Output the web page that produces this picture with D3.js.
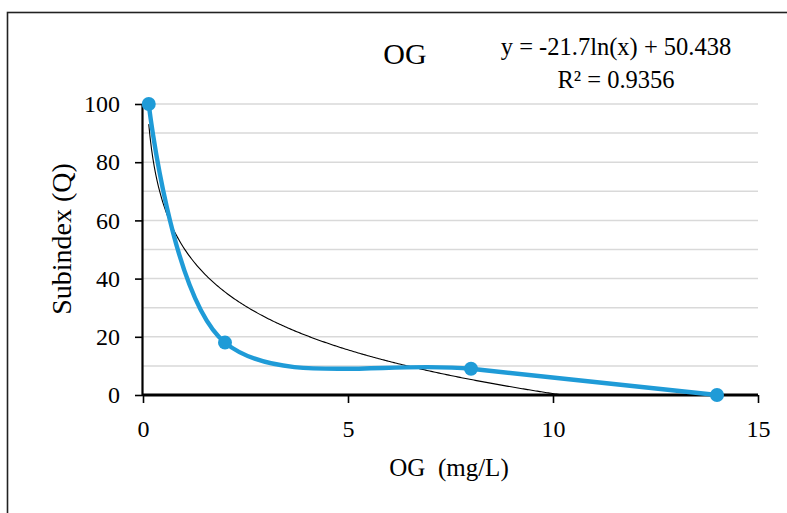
<!DOCTYPE html>
<html>
<head>
<meta charset="utf-8">
<script src="https://cdn.jsdelivr.net/npm/d3@7"></script>
<style>
html,body{margin:0;padding:0;background:#fff;}
svg{display:block;}
text{font-family:"Liberation Serif","Times New Roman",serif;fill:#000;}
</style>
</head>
<body>
<svg id="chart" width="787" height="513"></svg>
<script>
// ---- data ----
const ogValues = [0.14, 2, 8, 14];
const subindexValues = [100, 18, 9, 0];
const xTicks = [0, 5, 10, 15];
const yTicks = [0, 20, 40, 60, 80, 100];
const yGrid = [10, 20, 30, 40, 50, 60, 70, 80, 90, 100];
const trendA = -21.7, trendB = 50.438;
const titleText = "OG";
const eqText = "y = -21.7ln(x) + 50.438";
const r2Text = "R² = 0.9356";
const xTitle = "OG  (mg/L)";
const yTitle = "Subindex (Q)";

const svg = d3.select("#chart");
const x = d3.scaleLinear().domain([0, 15]).range([143, 758]);
const y = d3.scaleLinear().domain([0, 100]).range([395, 104]);

// border
svg.append("rect").attr("x", 7.5).attr("y", 12.5).attr("width", 820).attr("height", 540)
  .attr("fill", "none").attr("stroke", "#222").attr("stroke-width", 1.6);

// gridlines
svg.append("g").selectAll("line").data(yGrid).join("line")
  .attr("x1", x(0)).attr("x2", x(15))
  .attr("y1", d => y(d)).attr("y2", d => y(d))
  .attr("stroke", "#d9d9d9").attr("stroke-width", 1.5);

// y axis
const yAxis = svg.append("g").attr("transform", `translate(${x(0)},0)`)
  .call(d3.axisLeft(y).tickValues(yTicks).tickSize(8).tickPadding(15).tickFormat(d3.format("d")));
yAxis.select(".domain").attr("stroke", "#000").attr("stroke-width", 2.2).attr("d", `M-0.5,${y(100)}V${y(0)}`);
yAxis.selectAll(".tick line").attr("stroke", "#000").attr("stroke-width", 1.6);
yAxis.selectAll(".tick text").attr("font-size", 24).attr("font-family", "Liberation Serif").attr("fill", "#000");

// x axis
const xAxis = svg.append("g").attr("transform", `translate(0,${y(0)})`)
  .call(d3.axisBottom(x).tickValues(xTicks).tickSize(8).tickPadding(17).tickFormat(d3.format("d")));
xAxis.select(".domain").attr("stroke", "#000").attr("stroke-width", 3).attr("d", `M${x(0)},0H${x(15)}`);
xAxis.selectAll(".tick line").attr("stroke", "#000").attr("stroke-width", 1.6);
xAxis.selectAll(".tick text").attr("font-size", 24).attr("font-family", "Liberation Serif").attr("fill", "#000");

// trendline (logarithmic fit), drawn from first x until it reaches 0
const trendPts = [];
const xEnd = Math.min(ogValues[ogValues.length - 1], Math.exp(trendB / -trendA));
for (let i = 0; i <= 300; i++) {
  const xv = ogValues[0] + (xEnd - ogValues[0]) * i / 300;
  trendPts.push([xv, Math.max(0, trendA * Math.log(xv) + trendB)]);
}
svg.append("path").datum(trendPts)
  .attr("d", d3.line().x(d => x(d[0])).y(d => y(d[1])))
  .attr("fill", "none").attr("stroke", "#000").attr("stroke-width", 1.1);

// series line (smoothed)
const pts = ogValues.map((v, i) => [v, subindexValues[i]]);
svg.append("path").datum(pts)
  .attr("d", d3.line().x(d => x(d[0])).y(d => y(d[1])).curve(d3.curveCardinal.tension(0)))
  .attr("fill", "none").attr("stroke", "#1f9bd7").attr("stroke-width", 4.4)
  .attr("stroke-linejoin", "round").attr("stroke-linecap", "round");

svg.append("g").selectAll("circle").data(pts).join("circle")
  .attr("cx", d => x(d[0])).attr("cy", d => y(d[1])).attr("r", 7)
  .attr("fill", "#1f9bd7");

// title & equation
svg.append("text").attr("x", 405).attr("y", 64).attr("text-anchor", "middle")
  .attr("font-size", 30).text(titleText);
svg.append("text").attr("x", 616).attr("y", 55).attr("text-anchor", "middle")
  .attr("font-size", 24.5).text(eqText);
svg.append("text").attr("x", 616).attr("y", 88).attr("text-anchor", "middle")
  .attr("font-size", 24.5).text(r2Text);

// axis titles
svg.append("text").attr("x", 449).attr("y", 476).attr("text-anchor", "middle")
  .attr("font-size", 25).style("white-space", "pre").text(xTitle);
svg.append("text").attr("transform", "translate(71,239) rotate(-90)").attr("text-anchor", "middle")
  .attr("font-size", 28).text(yTitle);
</script>
</body>
</html>
